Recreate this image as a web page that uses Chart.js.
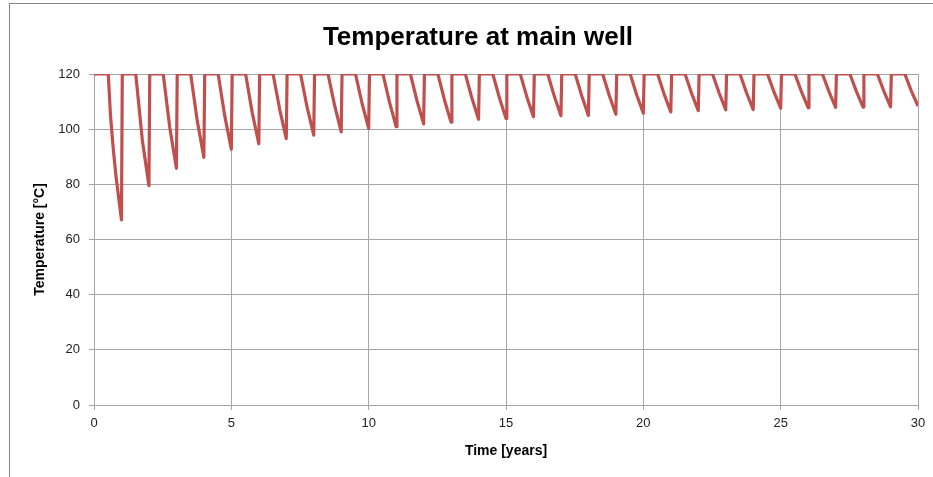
<!DOCTYPE html>
<html>
<head>
<meta charset="utf-8">
<script src="https://cdn.jsdelivr.net/npm/chart.js@4/dist/chart.umd.min.js"></script>
<style>
    body { margin: 0; background: #fff; overflow: hidden; }
    #wrap { position: relative; width: 933px; height: 477px; }
    /* ramka wykresu (jak w Excelu) */
    #frame { position: absolute; left: 9px; top: 3px; width: 1200px; height: 900px;
             border-left: 1px solid #868686; border-top: 1px solid #868686; }
    #chart { position: absolute; left: 0; top: 0; }
</style>
</head>
<body>
<div id="wrap">
    <div id="frame"></div>
    <canvas id="chart" width="933" height="477"></canvas>
</div>
<script>
// Czas [lata] - każdy cykl: powrót do 120, koniec plateau, środek spadku, minimum
const timeYears = [
    0, 0.52, 0.6, 0.7, 0.8, 0.9, 1.0,
    1.03, 1.52, 1.76, 2.0,
    2.03, 2.52, 2.76, 3.0,
    3.03, 3.52, 3.76, 4.0,
    4.03, 4.52, 4.76, 5.0,
    5.03, 5.52, 5.76, 6.0,
    6.03, 6.52, 6.76, 7.0,
    7.03, 7.52, 7.76, 8.0,
    8.03, 8.52, 8.76, 9.0,
    9.03, 9.52, 9.76, 10.0,
    10.03, 10.52, 10.76, 11.0,
    11.03, 11.52, 11.76, 12.0,
    12.03, 12.52, 12.76, 13.0,
    13.03, 13.52, 13.76, 14.0,
    14.03, 14.52, 14.76, 15.0,
    15.03, 15.52, 15.76, 16.0,
    16.03, 16.52, 16.76, 17.0,
    17.03, 17.52, 17.76, 18.0,
    18.03, 18.52, 18.76, 19.0,
    19.03, 19.52, 19.76, 20.0,
    20.03, 20.52, 20.76, 21.0,
    21.03, 21.52, 21.76, 22.0,
    22.03, 22.52, 22.76, 23.0,
    23.03, 23.52, 23.76, 24.0,
    24.03, 24.52, 24.76, 25.0,
    25.03, 25.52, 25.76, 26.0,
    26.03, 26.52, 26.76, 27.0,
    27.03, 27.52, 27.76, 28.0,
    28.03, 28.52, 28.76, 29.0,
    29.03, 29.52, 29.76, 30.0
];

// Temperatura [°C]
const temperature = [
    120, 120, 105, 93, 83, 75, 67.1,
    120, 120, 96, 79.5,
    120, 120, 100.5, 85.8,
    120, 120, 103, 89.8,
    120, 120, 104.8, 92.7,
    120, 120, 106, 94.7,
    120, 120, 107.2, 96.6,
    120, 120, 107.9, 97.8,
    120, 120, 108.6, 99.0,
    120, 120, 109.3, 100.3,
    120, 120, 109.7, 100.9,
    120, 120, 110.3, 101.9,
    120, 120, 110.6, 102.5,
    120, 120, 111.2, 103.6,
    120, 120, 111.4, 103.9,
    120, 120, 111.7, 104.5,
    120, 120, 111.9, 104.9,
    120, 120, 112, 105.0,
    120, 120, 112.2, 105.4,
    120, 120, 112.4, 105.8,
    120, 120, 112.6, 106.2,
    120, 120, 112.9, 106.7,
    120, 120, 113.1, 107.0,
    120, 120, 113.1, 107.1,
    120, 120, 113.4, 107.6,
    120, 120, 113.5, 107.8,
    120, 120, 113.6, 107.9,
    120, 120, 113.6, 108.0,
    120, 120, 113.7, 108.1,
    120, 120, 113.8, 108.4
];

// Osie
const xTicks = { min: 0, max: 30, step: 5 };
const yTicks = { min: 0, max: 120, step: 20 };

const gridColor = '#a6a6a6';
const fontFamily = "'Liberation Sans', Arial, sans-serif";

const points = timeYears.map((t, i) => ({ x: t, y: temperature[i] }));

new Chart(document.getElementById('chart').getContext('2d'), {
    type: 'line',
    data: {
        datasets: [{
            label: 'Temperature',
            data: points,
            borderColor: '#C0504D',
            borderWidth: 3.2,
            pointRadius: 0,
            tension: 0,
            borderJoinStyle: 'round'
        }]
    },
    options: {
        responsive: false,
        animation: false,
        // lewy margines większy, żeby tytuł był wyśrodkowany jak w oryginale
        layout: { padding: { left: 38, right: 15, top: 0, bottom: 0 } },
        plugins: {
            legend: { display: false },
            tooltip: { enabled: false },
            title: {
                display: true,
                text: 'Temperature at main well',
                color: '#000',
                font: { family: fontFamily, size: 26, weight: 'bold', lineHeight: 1.2 },
                padding: { top: 22, bottom: 20.8 }
            }
        },
        scales: {
            x: {
                type: 'linear',
                min: xTicks.min,
                max: xTicks.max,
                ticks: {
                    stepSize: xTicks.step,
                    color: '#222',
                    padding: 6,
                    maxRotation: 0,
                    font: { family: fontFamily, size: 13 }
                },
                grid: { color: gridColor, tickLength: 5 },
                border: { color: gridColor },
                title: {
                    display: true,
                    text: 'Time [years]',
                    color: '#000',
                    font: { family: fontFamily, size: 14, weight: 'bold', lineHeight: 1.2 },
                    padding: { top: 0, bottom: 17.6 }
                },
                afterFit: function (scale) { scale.height = 72; }
            },
            y: {
                min: yTicks.min,
                max: yTicks.max,
                ticks: {
                    stepSize: yTicks.step,
                    color: '#222',
                    padding: 9,
                    font: { family: fontFamily, size: 13 }
                },
                grid: { color: gridColor, tickLength: 5 },
                border: { color: gridColor },
                title: {
                    display: true,
                    text: 'Temperature [°C]',
                    color: '#000',
                    font: { family: fontFamily, size: 14, weight: 'bold', lineHeight: 1.2 },
                    padding: { top: -6.4, bottom: 0 }
                },
                afterFit: function (scale) { scale.width = 56; }
            }
        }
    }
});
</script>
</body>
</html>
